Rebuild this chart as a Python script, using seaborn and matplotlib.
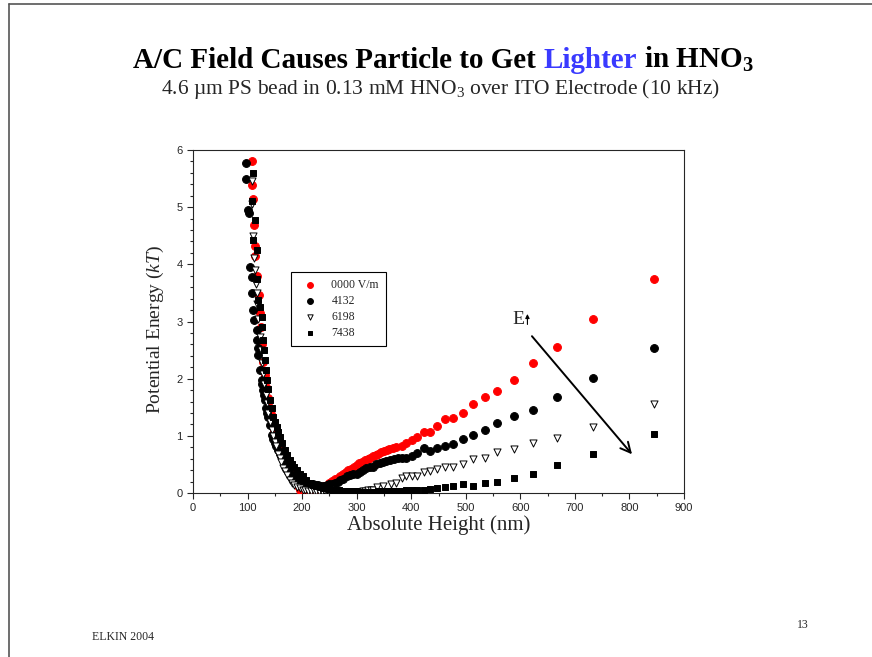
import matplotlib
matplotlib.use("Agg")
import matplotlib.pyplot as plt
from matplotlib.lines import Line2D
import seaborn as sns
import numpy as np

# ---- data (height in nm, energy in kT) ----
h_0000 = [107.5, 107.5, 110, 112, 113, 114, 118, 121, 123, 125, 127, 129, 132, 134, 137, 140,
          143, 146, 149, 152, 156, 160, 164, 168, 172, 176, 180, 184, 188, 192, 196, 200,
          205, 210, 215, 220, 225, 230, 235, 240, 245, 250, 255, 260, 265, 270, 275, 280,
          285, 290, 295, 300, 305, 310, 315, 320, 325, 330, 335, 340, 345, 350, 355, 360,
          366, 373, 383, 391, 401, 411, 423, 435, 448, 461, 476, 494, 513, 535, 558, 588,
          624, 668, 734, 845]
u_0000 = [5.80, 5.39, 5.14, 4.69, 4.32, 4.14, 3.80, 3.46, 3.15, 2.90, 2.60, 2.30, 2.06, 1.86, 1.66, 1.50,
          1.38, 1.22, 1.10, 1.00, 0.90, 0.80, 0.70, 0.60, 0.52, 0.44, 0.36, 0.28, 0.20, 0.12, 0.06, 0.02,
          0.01, 0.02, 0.03, 0.04, 0.06, 0.08, 0.10, 0.12, 0.13, 0.17, 0.21, 0.25, 0.27, 0.30, 0.34, 0.37,
          0.40, 0.42, 0.46, 0.49, 0.52, 0.55, 0.57, 0.60, 0.62, 0.65, 0.67, 0.69, 0.71, 0.73, 0.75, 0.77,
          0.79, 0.80, 0.82, 0.88, 0.93, 0.98, 1.06, 1.07, 1.17, 1.29, 1.32, 1.40, 1.56, 1.68, 1.79, 1.98,
          2.27, 2.56, 3.04, 3.74]

h_4132 = [98, 97, 101, 102, 104.5, 107.5, 109, 110.6, 112.4, 116.7, 116.7, 119.8, 119.8, 122.8, 125.9, 127,
          128.9, 130, 132, 133.8, 136, 137.9, 141, 144.1, 147, 150.3, 153, 156, 159.4, 162, 165.5, 168,
          171.7, 175, 177.8, 181, 185, 189, 193, 197, 201, 205, 210, 215, 220, 225, 230, 235,
          240, 245, 250, 255, 260, 265, 270, 275, 282, 288, 294, 300, 306, 312, 318, 324,
          330, 336, 342, 348, 354, 361, 368, 375, 383, 391, 401, 411, 423, 435, 448, 461,
          476, 494, 513, 535, 558, 588, 624, 668, 734, 845]
u_4132 = [5.78, 5.49, 4.95, 4.90, 3.96, 3.78, 3.49, 3.20, 3.02, 2.85, 2.68, 2.53, 2.41, 2.15, 1.98, 1.90,
          1.80, 1.72, 1.63, 1.48, 1.40, 1.33, 1.19, 1.01, 0.95, 0.87, 0.82, 0.76, 0.69, 0.64, 0.58, 0.52,
          0.46, 0.40, 0.34, 0.31, 0.28, 0.25, 0.22, 0.20, 0.18, 0.17, 0.16, 0.16, 0.15, 0.14, 0.14, 0.13,
          0.13, 0.14, 0.15, 0.16, 0.18, 0.20, 0.23, 0.25, 0.30, 0.32, 0.33, 0.34, 0.37, 0.40, 0.43, 0.45,
          0.46, 0.50, 0.52, 0.54, 0.56, 0.58, 0.60, 0.61, 0.62, 0.62, 0.65, 0.70, 0.78, 0.74, 0.79, 0.83,
          0.86, 0.94, 1.02, 1.11, 1.22, 1.34, 1.46, 1.68, 2.02, 2.53]

h_6198 = [107.5, 108, 110.6, 111.8, 113, 115, 116.7, 118, 120, 122.8, 125, 127, 128.9, 131, 133, 135,
          138, 141, 144, 147, 150, 153, 156.4, 159, 162, 165.5, 169, 173, 177.8, 182, 186, 191,
          196, 201, 206, 211, 216, 221, 226, 231, 236, 241, 246, 251, 256, 261, 266, 271,
          276, 281, 286, 291, 296, 301, 306, 311, 316, 321, 326, 330, 338, 349, 363, 373,
          383, 391, 401, 411, 423, 435, 448, 461, 476, 494, 513, 535, 558, 588, 624, 668,
          734, 845]
u_6198 = [5.45, 5.05, 4.49, 4.11, 3.90, 3.65, 3.49, 3.30, 3.05, 2.73, 2.50, 2.28, 2.09, 1.90, 1.72, 1.57,
          1.40, 1.25, 1.10, 1.00, 0.90, 0.82, 0.69, 0.62, 0.55, 0.43, 0.38, 0.31, 0.23, 0.18, 0.14, 0.11,
          0.08, 0.06, 0.05, 0.04, 0.04, 0.03, 0.03, 0.04, 0.04, 0.05, 0.05, 0.05, 0.04, 0.03, 0.02, 0.01,
          0.00, 0.00, 0.01, 0.01, 0.01, 0.02, 0.02, 0.03, 0.04, 0.05, 0.05, 0.05, 0.11, 0.13, 0.15, 0.18,
          0.26, 0.29, 0.29, 0.29, 0.36, 0.38, 0.42, 0.46, 0.46, 0.50, 0.60, 0.61, 0.71, 0.77, 0.87, 0.97,
          1.15, 1.55]

h_7438 = [110.6, 107.5, 113.6, 110.6, 116.7, 116.7, 120, 122, 125.9, 127, 128.9, 130, 132, 134, 135, 137,
          141, 144, 147.2, 150, 153.4, 156, 159.5, 163, 168.6, 173, 177.8, 182, 186, 190, 196, 202,
          208, 214.5, 220, 226, 232, 238, 244, 250, 256, 262, 268, 274, 280, 286, 292, 298,
          304, 310, 316, 322, 328, 334, 340, 346, 352, 358, 364, 370, 376, 383, 391, 401,
          411, 423, 435, 448, 461, 476, 494, 513, 535, 558, 588, 624, 668, 734, 845]
u_7438 = [5.59, 5.10, 4.78, 4.43, 4.25, 3.75, 3.38, 3.25, 3.08, 2.90, 2.68, 2.50, 2.33, 2.15, 1.98, 1.82,
          1.63, 1.48, 1.33, 1.25, 1.16, 1.07, 0.98, 0.88, 0.75, 0.66, 0.58, 0.50, 0.45, 0.40, 0.34, 0.29,
          0.23, 0.17, 0.14, 0.12, 0.10, 0.09, 0.08, 0.07, 0.06, 0.05, 0.05, 0.04, 0.04, 0.03, 0.03, 0.03,
          0.02, 0.02, 0.02, 0.02, 0.02, 0.02, 0.03, 0.03, 0.03, 0.03, 0.03, 0.04, 0.04, 0.04, 0.05, 0.06,
          0.06, 0.06, 0.07, 0.08, 0.11, 0.12, 0.16, 0.13, 0.17, 0.20, 0.26, 0.34, 0.49, 0.68, 1.04]

labels = ["0000 V/m", "4132", "6198", "7438"]

sns.set_style("ticks")
plt.rcParams['font.family'] = ['Liberation Sans', 'DejaVu Sans']
plt.rcParams['mathtext.fontset'] = 'custom'
plt.rcParams['mathtext.rm'] = 'Liberation Serif'
plt.rcParams['mathtext.it'] = 'Liberation Serif:italic'
plt.rcParams['mathtext.bf'] = 'Liberation Serif:bold'
serif = ['Liberation Serif', 'DejaVu Serif']

fig = plt.figure(figsize=(8.72, 6.57), dpi=100)
ax = fig.add_axes([193/872, 1-493/657, 491/872, 343/657])

# series: (h, u, marker, face, edge, size)
series = [
    (h_0000, u_0000, 'o', '#ff0000', '#ff0000', 32),
    (h_4132, u_4132, 'o', 'black', 'black', 32),
    (h_6198, u_6198, 'v', 'white', 'black', 26),
    (h_7438, u_7438, 's', 'black', 'black', 19),
]
for (h, u, m, fc, ec, sz), lab in zip(series, labels):
    sns.scatterplot(x=h, y=u, marker=m, color=fc, edgecolor=ec, linewidth=0.7,
                    s=sz, ax=ax, label=lab, zorder=3)

ax.set_xlim(0, 900)
ax.set_ylim(0, 6)
ax.set_xticks(np.arange(0, 901, 100))
ax.set_xticks(np.arange(50, 900, 100), minor=True)
ax.set_yticks(np.arange(0, 7, 1))
ax.set_yticks(np.arange(0, 6.01, 0.2), minor=True)
ax.tick_params(which='major', direction='out', length=4, width=0.8, labelsize=8)
ax.tick_params(which='minor', direction='out', length=2.5, width=0.8)
for sp in ax.spines.values():
    sp.set_linewidth(0.8)
    sp.set_visible(True)

ax.set_xlabel("Absolute Height (nm)", family=serif, fontsize=15, labelpad=1)
ax.set_ylabel("Potential Energy ($kT$)", family=serif, fontsize=14)
ax.yaxis.set_label_coords(-0.055, 0.477)

leg = ax.legend(loc='upper left', bbox_to_anchor=(0.2, 0.645), borderaxespad=0,
                prop={'family': serif, 'size': 8.5},
                frameon=True, fancybox=False, edgecolor='black', framealpha=1,
                handletextpad=0.8, labelspacing=0.35, borderpad=0.6, markerscale=0.75)
leg.get_frame().set_linewidth(0.8)

# field direction arrow
ax.annotate('', xy=(808, 0.64), xytext=(618, 2.78),
            arrowprops=dict(arrowstyle='->', color='black', lw=1.4, mutation_scale=18))
ax.text(596, 3.03, 'E', family=serif, fontsize=14, ha='center', va='center')
ax.annotate('', xy=(613, 3.18), xytext=(613, 2.90),
            arrowprops=dict(arrowstyle='-|>', color='black', lw=0.8, mutation_scale=6))

# title built from pieces so one word can be blue
renderer = fig.canvas.get_renderer()
parts = [("A/C Field Causes Particle to Get", 'black'),
         ("Lighter", '#3a3aff'),
         (r"in HNO$_\mathbf{3}$", 'black')]
tsize = 21
ty = 1 - 68/657
texts = [fig.text(0, ty, s, color=c, fontsize=tsize, fontweight='bold', family=serif, va='baseline')
         for s, c in parts]
widths = [t.get_window_extent(renderer).width for t in texts]
gap = 0.25 * tsize * 100 / 72
total = sum(widths) + gap * (len(widths) - 1)
x0 = 443.5 - total / 2
for t, w in zip(texts, widths):
    t.set_x(x0 / 872)
    x0 += w + gap

fig.text(440.5/872, 1-94/657, "4.6 \u00b5m PS bead in 0.13 mM HNO$_3$ over ITO Electrode (10 kHz)",
         family=serif, fontsize=15.5, ha='center', va='baseline')

fig.text(92/872, 1-637/657, "ELKIN 2004", family=serif, fontsize=8.5, va='center')
fig.text(797/872, 1-625/657, "13", family=serif, fontsize=8.5, va='center')

# slide frame
fig.add_artist(Line2D([9/872, 9/872], [0, 1-4/657], transform=fig.transFigure, color='#555555', lw=1.2))
fig.add_artist(Line2D([9/872, 1], [1-4/657, 1-4/657], transform=fig.transFigure, color='#555555', lw=1.2))

fig.savefig("out.png", dpi=100)
